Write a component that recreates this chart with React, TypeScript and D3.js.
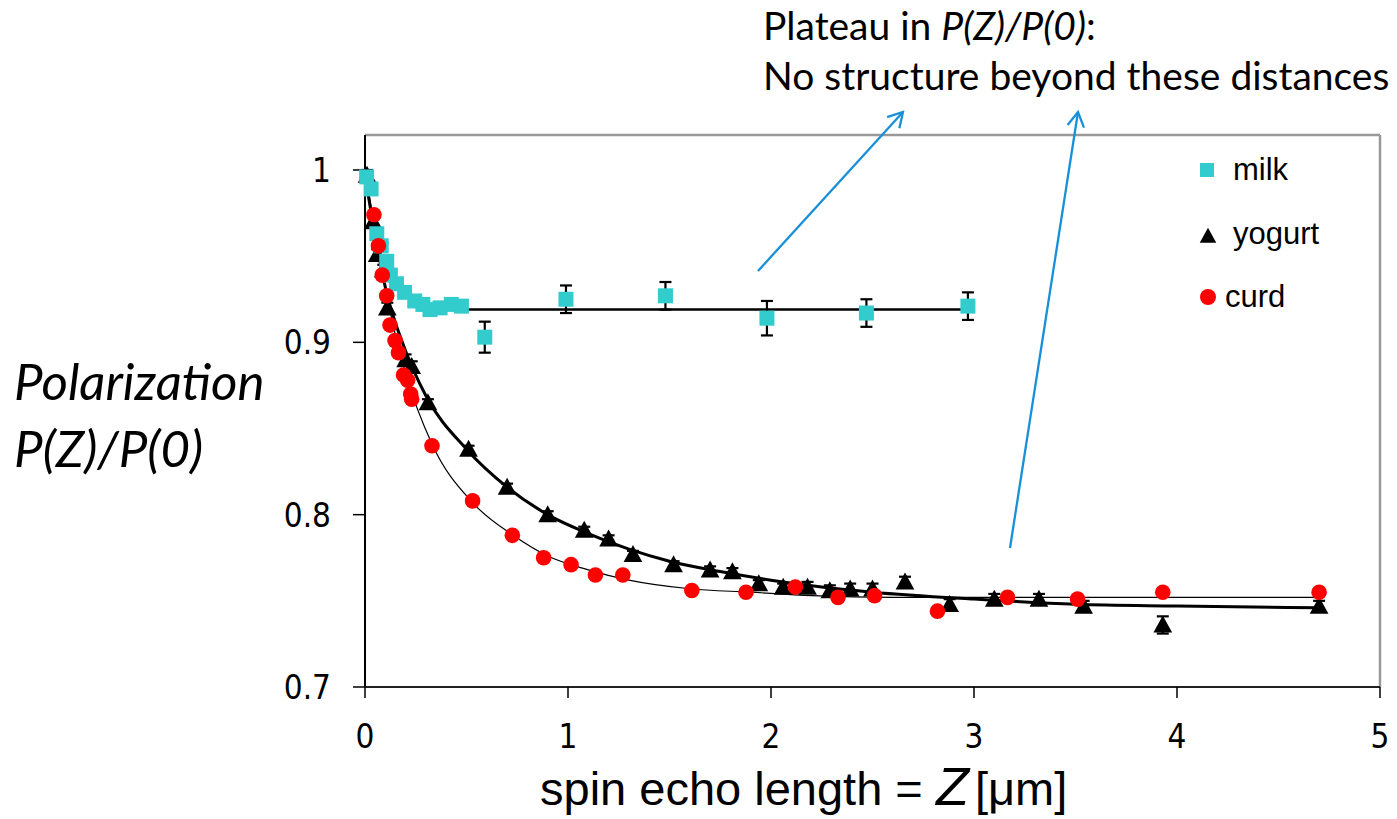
import * as d3 from "d3";
import React from "react";

// spin echo length Z [um] and normalised polarisation P(Z)/P(0)
const milkZ = [0.008, 0.03, 0.058, 0.08, 0.107, 0.125, 0.155, 0.195, 0.245, 0.285, 0.32, 0.37, 0.425, 0.475, 0.59, 0.99, 1.48, 1.98, 2.47, 2.97];
const milkP = [0.996, 0.989, 0.963, 0.956, 0.947, 0.939, 0.934, 0.929, 0.924, 0.922, 0.919, 0.92, 0.922, 0.921, 0.903, 0.925, 0.927, 0.914, 0.917, 0.921];
const milkErr = [0.003, 0.003, 0.002, 0.002, 0.002, 0.002, 0.002, 0.002, 0.002, 0.002, 0.002, 0.002, 0.002, 0.002, 0.009, 0.008, 0.008, 0.01, 0.008, 0.008];

const yogurtZ = [0.01, 0.04, 0.06, 0.09, 0.11, 0.2, 0.23, 0.31, 0.51, 0.7, 0.9, 1.08, 1.2, 1.32, 1.52, 1.7, 1.81, 1.94, 2.06, 2.18, 2.29, 2.39, 2.5, 2.66, 2.88, 3.1, 3.32, 3.54, 3.93, 4.7];
const yogurtP = [0.997, 0.97, 0.951, 0.942, 0.92, 0.89, 0.886, 0.865, 0.838, 0.816, 0.8, 0.791, 0.786, 0.777, 0.771, 0.768, 0.767, 0.76, 0.758, 0.758, 0.756, 0.757, 0.757, 0.761, 0.748, 0.751, 0.751, 0.747, 0.736, 0.747];
const yogurtErr = [0.003, 0.003, 0.003, 0.003, 0.003, 0.003, 0.003, 0.002, 0.002, 0.002, 0.002, 0.002, 0.002, 0.002, 0.002, 0.002, 0.002, 0.002, 0.002, 0.003, 0.003, 0.003, 0.003, 0.003, 0.003, 0.003, 0.003, 0.003, 0.005, 0.003];

const curdZ = [0.044, 0.066, 0.085, 0.107, 0.123, 0.148, 0.165, 0.19, 0.21, 0.225, 0.23, 0.33, 0.53, 0.726, 0.88, 1.015, 1.135, 1.27, 1.61, 1.877, 2.12, 2.33, 2.51, 2.82, 3.165, 3.51, 3.93, 4.7];
const curdP = [0.974, 0.956, 0.939, 0.927, 0.91, 0.901, 0.894, 0.881, 0.878, 0.87, 0.867, 0.84, 0.808, 0.788, 0.775, 0.771, 0.765, 0.765, 0.756, 0.755, 0.758, 0.752, 0.753, 0.744, 0.752, 0.751, 0.755, 0.755];

// fitted curves
const milkFitZ = [0.4, 2.97];
const milkFitP = [0.919, 0.919];
const yogurtFitZ = [0, 0.05, 0.1, 0.2, 0.3, 0.5, 0.7, 0.9, 1.1, 1.3, 1.5, 1.75, 2.0, 2.25, 2.5, 3.0, 3.5, 4.0, 4.7];
const yogurtFitP = [0.997, 0.962, 0.932, 0.895, 0.869, 0.838, 0.816, 0.8, 0.789, 0.78, 0.773, 0.767, 0.762, 0.758, 0.755, 0.751, 0.748, 0.747, 0.746];
const curdFitZ = [0, 0.05, 0.1, 0.15, 0.2, 0.33, 0.53, 0.73, 0.9, 1.1, 1.3, 1.6, 1.9, 2.2, 2.6, 3.5, 4.7];
const curdFitP = [1.0, 0.965, 0.932, 0.904, 0.882, 0.841, 0.807, 0.788, 0.776, 0.768, 0.762, 0.757, 0.755, 0.753, 0.752, 0.752, 0.752];

const xTicks = [0, 1, 2, 3, 4, 5];
const yTicks = [1, 0.9, 0.8, 0.7];
const legendNames = ["milk", "yogurt", "curd"];

const width = 1397;
const height = 819;
const marginLeft = 365;
const marginRight = 17;
const marginTop = 135;
const marginBottom = 132;

const milkColor = "#33CCCC";
const curdColor = "#FF0000";
const arrowColor = "#1790d8";

export default function App() {
  const x = d3.scaleLinear().domain([0, 5]).range([marginLeft, width - marginRight]);
  const y = d3.scaleLinear().domain([0.7, 1]).range([height - marginBottom, 170]);

  const line = d3
    .line<[number, number]>()
    .x((d) => x(d[0]))
    .y((d) => y(d[1]))
    .curve(d3.curveMonotoneX);

  const zip = (a: number[], b: number[]) => a.map((v, i) => [v, b[i]] as [number, number]);

  const errorBars = (zs: number[], ps: number[], es: number[]) =>
    zs.map((z, i) => {
      const cx = x(z);
      const y1 = y(ps[i] + es[i]);
      const y2 = y(ps[i] - es[i]);
      return (
        <g key={i} stroke="#000" strokeWidth={2.2}>
          <line x1={cx} x2={cx} y1={y1} y2={y2} />
          <line x1={cx - 6} x2={cx + 6} y1={y1} y2={y1} />
          <line x1={cx - 6} x2={cx + 6} y1={y2} y2={y2} />
        </g>
      );
    });

  const tri = (cx: number, cy: number, s: number) =>
    `M${cx},${cy - s * 0.55}L${cx + s * 0.55},${cy + s * 0.45}L${cx - s * 0.55},${cy + s * 0.45}Z`;

  const plotRight = width - marginRight;
  const plotBottom = height - marginBottom;

  return (
    <svg width={width} height={height} style={{ position: "absolute", left: 0, top: 0, background: "#fff" }}>
      <defs>
        <marker id="arr" viewBox="0 0 20 20" refX="17" refY="10" markerWidth="9" markerHeight="9" orient="auto" markerUnits="strokeWidth">
          <path d="M3,2 L17,10 L3,18" fill="none" stroke={arrowColor} strokeWidth={2.2} />
        </marker>
      </defs>

      {/* frame */}
      <line x1={marginLeft} x2={plotRight} y1={marginTop} y2={marginTop} stroke="#999" strokeWidth={2.5} />
      <line x1={plotRight} x2={plotRight} y1={marginTop} y2={plotBottom} stroke="#999" strokeWidth={2.5} />
      <line x1={marginLeft} x2={marginLeft} y1={marginTop} y2={plotBottom} stroke="#000" strokeWidth={2} />
      <line x1={marginLeft} x2={plotRight} y1={plotBottom} y2={plotBottom} stroke="#222" strokeWidth={2} />

      {/* y axis ticks */}
      {yTicks.map((t) => (
        <g key={t}>
          <line x1={marginLeft - 12} x2={marginLeft} y1={y(t)} y2={y(t)} stroke="#000" strokeWidth={1.5} />
          <text
            x={marginLeft - 34}
            y={y(t) + 12}
            textAnchor="end"
            fontFamily="'DejaVu Sans Condensed', 'DejaVu Sans', sans-serif"
            fontStretch="condensed"
            fontSize={33}
            fill="#000"
          >
            {t}
          </text>
        </g>
      ))}

      {/* x axis ticks */}
      {xTicks.map((t) => (
        <g key={t}>
          <line x1={x(t)} x2={x(t)} y1={plotBottom} y2={plotBottom + 11} stroke="#000" strokeWidth={1.5} />
          <text
            x={x(t)}
            y={plotBottom + 61}
            textAnchor="middle"
            fontFamily="'DejaVu Sans Condensed', 'DejaVu Sans', sans-serif"
            fontStretch="condensed"
            fontSize={33}
            fill="#000"
          >
            {t}
          </text>
        </g>
      ))}

      {/* fit curves */}
      <path d={line(zip(curdFitZ, curdFitP)) ?? ""} fill="none" stroke="#000" strokeWidth={1.2} />
      <path d={line(zip(yogurtFitZ, yogurtFitP)) ?? ""} fill="none" stroke="#000" strokeWidth={3} />
      <path d={line(zip(milkFitZ, milkFitP)) ?? ""} fill="none" stroke="#000" strokeWidth={2.5} />

      {/* yogurt */}
      {errorBars(yogurtZ, yogurtP, yogurtErr)}
      {yogurtZ.map((z, i) => (
        <path key={i} d={tri(x(z), y(yogurtP[i]), 17)} fill="#000" />
      ))}

      {/* milk */}
      {errorBars(milkZ, milkP, milkErr)}
      {milkZ.map((z, i) => (
        <rect key={i} x={x(z) - 7.5} y={y(milkP[i]) - 7.5} width={15} height={15} fill={milkColor} />
      ))}

      {/* curd */}
      {curdZ.map((z, i) => (
        <circle key={i} cx={x(z)} cy={y(curdP[i])} r={7.8} fill={curdColor} />
      ))}

      {/* legend */}
      <g fontFamily="'Liberation Sans', Arial, sans-serif" fontSize={31} fill="#000">
        <rect x={1200} y={163} width={14} height={14} fill={milkColor} />
        <text x={1233} y={180}>{legendNames[0]}</text>
        <path d={tri(1208, 236, 15)} fill="#000" />
        <text x={1233} y={244}>{legendNames[1]}</text>
        <circle cx={1208} cy={297} r={8} fill={curdColor} />
        <text x={1225} y={307}>{legendNames[2]}</text>
      </g>

      {/* y label */}
      <g fontFamily="Lato, 'Open Sans', sans-serif" fontStyle="italic" fontSize={51} fill="#000">
        <text x={14} y={400}>Polarization</text>
        <text x={14} y={467}>P(Z)/P(0)</text>
      </g>

      {/* x label */}
      <text x={540} y={805} fontFamily="'Liberation Sans', Arial, sans-serif" fontSize={47} fill="#000">
        spin echo length ={" "}
        <tspan fontStyle="italic" fontSize={54}>Z</tspan>
        <tspan dx={6}>[μm]</tspan>
      </text>

      {/* annotation */}
      <g fontFamily="Lato, 'Open Sans', sans-serif" fontSize={39} fill="#000">
        <text x={763} y={40}>
          Plateau in <tspan fontStyle="italic">P(Z)/P(0)</tspan>:
        </text>
        <text x={763} y={90}>No structure beyond these distances</text>
      </g>
      <line x1={758} y1={271} x2={903} y2={112} stroke={arrowColor} strokeWidth={2.3} markerEnd="url(#arr)" />
      <line x1={1010} y1={548} x2={1078} y2={112} stroke={arrowColor} strokeWidth={2.3} markerEnd="url(#arr)" />
    </svg>
  );
}
